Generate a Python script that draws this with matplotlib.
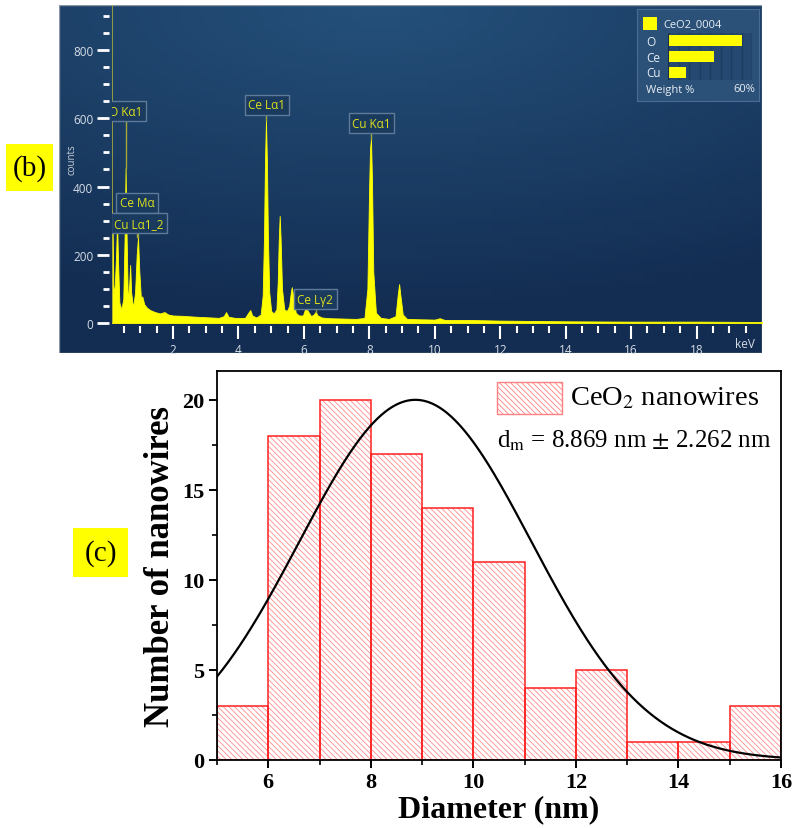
import numpy as np
import matplotlib.pyplot as plt
from matplotlib.patches import Rectangle
from matplotlib.colors import LinearSegmentedColormap

plt.rcParams['font.family'] = ['Liberation Serif', 'DejaVu Serif']
plt.rcParams['mathtext.fontset'] = 'stix'
plt.rcParams['hatch.linewidth'] = 0.6

# ---- data: EDS spectrum (keV, counts) ----
spectrum = [
    (0.13, 330), (0.15, 300), (0.18, 85), (0.22, 110), (0.26, 200), (0.29, 296),
    (0.32, 180), (0.36, 60), (0.42, 40), (0.48, 70), (0.52, 250), (0.55, 454),
    (0.58, 260), (0.62, 60), (0.66, 110), (0.69, 170), (0.72, 90), (0.78, 45),
    (0.84, 90), (0.89, 200), (0.93, 252), (0.97, 150), (1.02, 70), (1.06, 78),
    (1.12, 55), (1.2, 45), (1.3, 38), (1.45, 32), (1.6, 28), (1.74, 32),
    (1.85, 25), (2.0, 22), (2.3, 21), (2.6, 19), (3.0, 17), (3.4, 15),
    (3.55, 20), (3.62, 32), (3.7, 18), (3.9, 15), (4.2, 15), (4.3, 30),
    (4.36, 38), (4.42, 22), (4.55, 16), (4.68, 25), (4.74, 80), (4.78, 250),
    (4.81, 470), (4.84, 595), (4.87, 470), (4.9, 250), (4.94, 90), (5.0, 35),
    (5.08, 28), (5.16, 40), (5.2, 120), (5.23, 240), (5.26, 314), (5.29, 240),
    (5.33, 100), (5.4, 40), (5.48, 35), (5.55, 50), (5.6, 90), (5.63, 105),
    (5.67, 80), (5.75, 30), (5.85, 22), (5.97, 22), (6.04, 42), (6.07, 47),
    (6.12, 35), (6.22, 20), (6.3, 25), (6.36, 33), (6.42, 22), (6.55, 16),
    (6.8, 14), (7.2, 13), (7.6, 12), (7.85, 15), (7.94, 100), (7.99, 380),
    (8.02, 510), (8.05, 540), (8.08, 420), (8.12, 150), (8.2, 30), (8.35, 15),
    (8.6, 12), (8.8, 20), (8.87, 85), (8.91, 114), (8.95, 80), (9.02, 25),
    (9.15, 12), (9.5, 11), (10.0, 10), (10.15, 14), (10.3, 9), (11.0, 9),
    (12.0, 7), (13.0, 6), (14.0, 5), (16.0, 4), (18.0, 4), (20.0, 3),
]
keV = [p[0] for p in spectrum]
counts = [p[1] for p in spectrum]

peak_labels = ['O Kα1', 'Ce Mα', 'Cu Lα1_2', 'Ce Lα1', 'Cu Kα1', 'Ce Lγ2']
label_keV = [0.55, 0.90, 0.96, 4.86, 8.07, 6.34]
label_counts = [620, 353, 292, 639, 585, 70]
peak_keV = [0.55, 0.90, 0.93, 4.84, 8.05, 6.36]
peak_top = [454, 252, 252, 595, 540, 33]

elements = ['O', 'Ce', 'Cu']
weight_pct = [53, 32.5, 13]

# ---- data: diameter histogram ----
bin_left = [5, 6, 7, 8, 9, 10, 11, 12, 13, 14, 15]
bin_counts = [3, 18, 20, 17, 14, 11, 4, 5, 1, 1, 3]
fit_mean, fit_sd, fit_amp = 8.869, 2.262, 20.0

W, H = 801, 829
HATCH = '\\' * 6


def px_box(x0, y0, x1, y1):
    return [x0 / W, 1 - y1 / H, (x1 - x0) / W, (y1 - y0) / H]


fig = plt.figure(figsize=(W / 100, H / 100), dpi=100)

# ---------------- (b) EDS panel ----------------
bg = fig.add_axes(px_box(59, 6, 762, 354))
yy, xx = np.mgrid[0:1:60j, 0:1:120j]
shade = 1 - np.clip(np.hypot((xx - 0.45) * 0.9, yy * 1.1), 0, 1)
bg.imshow(shade, cmap=LinearSegmentedColormap.from_list('eds', ['#132c51', '#24507a']),
          aspect='auto', extent=(0, 1, 0, 1), origin='upper')
bg.add_patch(Rectangle((0, 0), 1, 1, transform=bg.transAxes, fill=False, ec='#8a96a4', lw=1))
bg.set_axis_off()

ax1 = fig.add_axes(px_box(112, 6, 762, 324))
ax1.set_facecolor('none')
ax1.fill_between(keV, counts, 0, color='#ffff00', lw=0.6)
ax1.set_xlim(0.135, 20)
ax1.set_ylim(0, 932)
ax1.axvline(0.135, color='#a7aa3c', lw=1.2)
for s in ['top', 'right']:
    ax1.spines[s].set_visible(False)
for s in ['left', 'bottom']:
    ax1.spines[s].set_position(('outward', 2.5))
    ax1.spines[s].set_visible(False)
ax1.set_yticks(range(0, 801, 200))
ax1.set_yticks(np.arange(0, 901, 50), minor=True)
ax1.set_xticks(range(2, 19, 2))
ax1.set_xticks(np.arange(0.5, 20, 0.5), minor=True)
ax1.tick_params(axis='y', which='major', length=9, width=2, color='white',
                labelcolor='#d5dde6', labelsize=8.5, pad=2)
ax1.tick_params(axis='y', which='minor', length=4.5, width=2, color='white')
ax1.tick_params(axis='x', which='major', length=9, width=1.5, color='white',
                labelcolor='#d5dde6', labelsize=8.5, pad=3)
ax1.tick_params(axis='x', which='minor', length=5, width=1.5, color='white')
for t in ax1.get_xticklabels() + ax1.get_yticklabels():
    t.set_family('Open Sans')

for lab, lx, ly, px, pt in zip(peak_labels, label_keV, label_counts, peak_keV, peak_top):
    ax1.plot([px, px], [ly - 28, pt], color='#a4a83a', lw=1)
    ax1.text(lx, ly, lab, ha='center', va='center', color='#dfe21c', fontsize=8.5,
             family='Open Sans', clip_on=True,
             bbox=dict(boxstyle='square,pad=0.3', fc='#1a3a5e', ec='#5d7a99', lw=1))

fig.text(745 / W, 1 - 345 / H, 'keV', color='#d5dde6', fontsize=8.5, family='Open Sans',
         ha='center', va='center')
fig.text(72 / W, 1 - 160 / H, 'counts', color='#c8d0d8', fontsize=7, family='Open Sans',
         rotation=90, ha='center', va='center')

# weight % inset
box = fig.add_axes(px_box(637, 10, 759, 102))
box.set_facecolor('#2b5179')
box.set_xticks([])
box.set_yticks([])
for s in box.spines.values():
    s.set_color('#4a6c92')
fig.add_artist(Rectangle((643 / W, 1 - 31 / H), 14 / W, 13 / H, transform=fig.transFigure,
                         fc='#ffff00', lw=0))
fig.text(663 / W, 1 - 25 / H, 'CeO2_0004', color='#e8eef4', fontsize=8, family='Open Sans',
         va='center')
bars = fig.add_axes(px_box(668, 34, 752, 81))
bars.set_facecolor('#24486f')
bars.barh(range(len(elements)), weight_pct, height=0.72, color='#ffff00')
bars.set_xlim(0, 60)
bars.set_ylim(2.5, -0.5)
bars.set_xticks(np.arange(0, 61, 7.5))
bars.grid(axis='x', color='#1e3d62', lw=1)
bars.set_axisbelow(True)
bars.tick_params(length=0, labelbottom=False, labelleft=False)
for s in bars.spines.values():
    s.set_visible(False)
bars.axvline(0, color='#1a2d44', lw=1.5)
for i, el in enumerate(elements):
    fig.text(646 / W, 1 - (42.5 + 15.5 * i) / H, el, color='#e8eef4', fontsize=8.5,
             family='Open Sans', va='center')
fig.text(646 / W, 1 - 90 / H, 'Weight %', color='#e8eef4', fontsize=8, family='Open Sans',
         va='center')
fig.text(755 / W, 1 - 90 / H, '60%', color='#e8eef4', fontsize=8, family='Open Sans',
         va='center', ha='right')

# ---------------- (c) histogram ----------------
ax2 = fig.add_axes(px_box(217, 372, 781, 761))
ax2.bar(bin_left, bin_counts, width=1, align='edge', fc='white', ec='#ff8c8c',
        hatch=HATCH, lw=0)
ax2.bar(bin_left, bin_counts, width=1, align='edge', fill=False, ec='#ff2020', lw=1.1)
xs = np.linspace(5, 16, 400)
ax2.plot(xs, fit_amp * np.exp(-(xs - fit_mean) ** 2 / (2 * fit_sd ** 2)), color='black', lw=1.6)
ax2.set_xlim(5, 16)
ax2.set_ylim(0, 21.6)
ax2.set_xticks(range(6, 17, 2))
ax2.set_xticks(range(5, 17, 1), minor=True)
ax2.set_yticks(range(0, 21, 5))
ax2.set_yticks(np.arange(0, 21, 2.5), minor=True)
ax2.tick_params(which='major', direction='out', length=6, width=1.4, labelsize=16, pad=3)
ax2.tick_params(which='minor', direction='out', length=3.5, width=1.2)
for t in ax2.get_xticklabels() + ax2.get_yticklabels():
    t.set_fontweight('bold')
for s in ax2.spines.values():
    s.set_linewidth(1.3)
ax2.set_xlabel('Diameter (nm)', fontsize=23, fontweight='bold', labelpad=1)
ax2.set_ylabel('Number of nanowires', fontsize=25, fontweight='bold', labelpad=4)

fig.add_artist(Rectangle((497 / W, 1 - 415 / H), 65 / W, 32 / H, transform=fig.transFigure,
                         fc='white', ec='#ff8080', hatch=HATCH, lw=1))
fig.text(570 / W, 1 - 399 / H, 'CeO$_2$ nanowires', fontsize=20.5, va='center')
fig.text(497 / W, 1 - 441 / H, r'd$_{\rm m}$ = 8.869 nm $\pm$ 2.262 nm', fontsize=18,
         va='center')

# panel tags
fig.add_artist(Rectangle((6 / W, 1 - 192 / H), 47 / W, 47 / H, transform=fig.transFigure,
                         fc='#ffff00', lw=0))
fig.text(29.5 / W, 1 - 168.5 / H, '(b)', fontsize=21, ha='center', va='center')
fig.add_artist(Rectangle((73 / W, 1 - 578 / H), 55 / W, 49 / H, transform=fig.transFigure,
                         fc='#ffff00', lw=0))
fig.text(100.5 / W, 1 - 553.5 / H, '(c)', fontsize=21, ha='center', va='center')

fig.savefig('out.png', dpi=100)
